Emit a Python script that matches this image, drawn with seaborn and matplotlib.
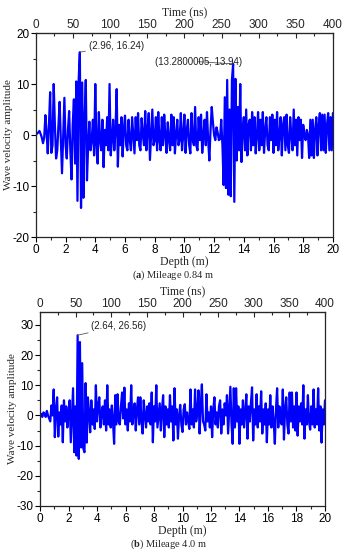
import numpy as np
import pandas as pd
import matplotlib
matplotlib.use("Agg")
import matplotlib.pyplot as plt
import seaborn as sns

step_m = 0.08
amp_a = [
    0, 0.3, 0.5, 0.8, 0.2, -0.5, -1.6, -0.5,
    3.9, 0.5, -3.6, 2, 8.4, -3.5, -2, 10.0,
    2, -4.6, -3, 2, 6.5, -1, -7.5, 0,
    7.3, -2, -4.6, 1, 4.7, -3, -8.7, 2,
    7.0, -5.6, 10.5, -12.9, 10.8, 16.24, -14.3, 10.3,
    -12.3, 3, 10.8, -8.9, -2, 2.6, -3, -1,
    3, -4, 10, -2, -5.6, 4.5, -1, -3,
    3, -6.3, 1, -2, 3.5, -3, 10, -4,
    -1, 3, -3, 1, 9, -6.2, 2, -2,
    3.5, -4.2, 1, 3.8, -2, -3, 3, -1,
    -3, 3.5, 0, -3.6, 3.5, -1, 4.3, -2,
    -3, 3.3, 0, -2, 4.7, -3, 1, 4.3,
    -4.9, 0, 5, -2, -1, 3.5, -3, 4.5,
    -1, -3, 3.5, -2, 4, 0, -3.5, 2.5,
    -1, -3, 4, -2, 3.5, -3.6, 0, 3,
    -2, -1, 4.3, -3, 0, 4, -3.5, 1,
    3, -2, -3.6, 4.3, -1, -2, 5.5, -2,
    -3, 3.5, -1, 4, -3.5, 0, 3, -2,
    4.5, -1, -5, 1, 5.5, 2.5, 0, -1,
    1.5, 0.5, -1, -0.8,
    3, -2, -9.8, 7.4, -10.4, 10.8, -11.7, 5, -12, 10.8, 13.94, -13.1, 11, -5, 5.5, -3,
    10, -5.3, 1, 3.5, -3, 5, -4, 2,
    3, -3, 4.5, -2, 3.5, -3.6, 0, 4.5,
    -3, 3, -2, 4.5, -3.5, 1, 3.5, -2,
    -3, 3.5, -1, 4, -3.5, 3, -2, 4.5,
    -3, 0, 3.5, -4, 2, 3.5, -3, 4,
    -2, -3.5, 3.5, 0, -3, 5, -2, 3,
    -4, 3.5, -1, 3, -4.5, 2, 0, -1,
    1, 0, -4.5, 3, -4, 3, -4.5, 1,
    3.5, -4, 2, 4.3, -3, 4, -3, 4,
    -3.5, 2, 4.3, -3, 3.5, -3, 4.3,
]
amp_b = [
    0, 0.5, -0.5, 1, 0.5, -0.5, 1.5, 0, -1, -2,
    3.3, 0, 8.6, -7.2, 2, 6, -7, 1, -3, 3.3,
    -8.9, 5, -2, 3, -4, 1, 5, -8.9, 0, 9,
    -12.2, 3, -13.3, 26.56, -14.4, 24.3, -10.6, 17.3, -11, -12.2,
    10.7, -9, 6, 1, -5.6, 5, -3, 2, -4.5, 10,
    -2, 3, 6, -4, 1, 3, -3, 5, -5, 10,
    -3, 2, -4, 3.3, -2, -9.4, 6.7, -3, 7, -2,
    -3, 3, 7.6, -1, 9.2, -3, 2, -5, 4, -2,
    10, -3, 1, 4, -5, 2, 6, -3, 6, -2,
    -6, 5, 0, -4, 3, -2, 4, -3, 7.6, -8.9,
    3, -2, 10, -4, 0, 4, -5, 2, 6.7, -7.2,
    3, -3, 2, -4, 6.7, -2, 3, -8.3, 9, -3,
    2, -7.7, 0, 3.5, -3, -5.5, 2, 3.7, -3, 1,
    -2, -4.5, 8.6, -3, 2, -4, 8.6, -2, 1, 8.3,
    -6, 3, 10.3, -2, -3, -5, 7, -2, 1, -4,
    3, -7.2, 2, 6, -3, 1, -4, 3, 5, -6,
    2, -3, 4, 0, 6.7, -6, 2, 9.5, -3, -9.4,
    9, -4, 9, -2, 3, -9.4, 2, -3, 5, -4,
    1, 7, -7.7, 3, -2, 4, 9.3, -8.3, 2, -3,
    7, -4, 3, -2, 8, -6, 2, -3, 4, -8.9,
    2, -3, 6.7, -4, 3, -2, -9.4, 2, 9, -4,
    3, -2, -3, 8.6, -8, 2, 6, -3, -6, 7.6,
    -2, 7.6, -4, 3, -5, 7.6, -6.7, 3, -2, 4,
    -3, 10, -7.7, 2, -3, 6.7, -2, -4.7, 3, -3,
    8.6, -4, 2, -3, 9, -5, 3, -9, 2, -3,
    5,
]
peak_a1 = (2.96, 16.24)
peak_a2 = (13.28, 13.94)
peak_b1 = (2.64, 26.56)
captions = ["a", "b"]
mileages = ["Mileage 0.84 m", "Mileage 4.0 m"]
depth_ticks = list(range(0, 21, 2))
time_ticks = list(range(0, 401, 50))

df_a = pd.DataFrame({"depth": np.arange(len(amp_a)) * step_m, "amp": amp_a})
df_b = pd.DataFrame({"depth": np.arange(len(amp_b)) * step_m, "amp": amp_b})

# ---------------- style ----------------
sns.set_style("ticks")
plt.rcParams["font.family"] = ["Liberation Sans", "DejaVu Sans"]
plt.rcParams["axes.unicode_minus"] = False
plt.rcParams["mathtext.fontset"] = "custom"
plt.rcParams["mathtext.rm"] = "Liberation Serif"
plt.rcParams["mathtext.bf"] = "Liberation Serif:bold"
serif = ["Liberation Serif", "DejaVu Serif"]
BLUE = "#0000ff"

fig = plt.figure(figsize=(3.45, 5.5), dpi=100)
ax_a = fig.add_axes([0.104, 0.569, 0.861, 0.371])
ax_b = fig.add_axes([0.116, 0.080, 0.826, 0.353])


def style_axes(ax, ylim, yticks, ylabel_x):
    ax.set_xlim(0, 20)
    ax.set_ylim(*ylim)
    ax.set_xticks(depth_ticks)
    ax.set_xticks(np.arange(1, 20, 2), minor=True)
    ax.set_yticks(yticks)
    ax.set_yticks(np.arange(yticks[0] + 5, yticks[-1], 10), minor=True)
    ax.tick_params(axis="both", which="major", length=3.5, width=0.8,
                   labelsize=8.5, pad=1.2, direction="out", colors="black")
    ax.tick_params(axis="both", which="minor", length=2, width=0.8, direction="out")
    for s in ax.spines.values():
        s.set_linewidth(0.9)
        s.set_visible(True)
    ax.set_xlabel("Depth (m)", family=serif, fontsize=8.5, labelpad=0.5)
    ax.set_ylabel("Wave velocity amplitude", family=serif, fontsize=8.0)
    ax.yaxis.set_label_coords(ylabel_x, 0.5)
    sec = ax.secondary_xaxis("top", functions=(lambda d: d * 20, lambda t: t / 20))
    sec.set_xticks(time_ticks)
    sec.set_xticks(np.arange(25, 400, 50), minor=True)
    sec.tick_params(axis="x", which="major", length=3.5, width=0.8,
                    labelsize=8.5, pad=1.5, direction="in")
    sec.tick_params(axis="x", which="minor", length=2, width=0.8, direction="in")
    sec.set_xlabel("Time (ns)", family=serif, fontsize=8.5, labelpad=2)
    return sec


sns.lineplot(data=df_a, x="depth", y="amp", ax=ax_a, color=BLUE, linewidth=1.6)
sns.lineplot(data=df_b, x="depth", y="amp", ax=ax_b, color=BLUE, linewidth=1.6)

style_axes(ax_a, (-20, 20), [-20, -10, 0, 10, 20], -0.077)
style_axes(ax_b, (-30, 34.3), [-30, -20, -10, 0, 10, 20, 30], -0.081)

ann_kw = dict(fontsize=7, color="#222222",
              arrowprops=dict(arrowstyle="-", color="#555555", lw=0.6,
                              shrinkA=0, shrinkB=0))
ax_a.annotate(f"({peak_a1[0]}, {peak_a1[1]})", xy=peak_a1, xytext=(3.55, 16.5),
              va="bottom", ha="left", **ann_kw)
ax_a.annotate(f"(13.2800005, {peak_a2[1]})", xy=peak_a2, xytext=(8.0, 13.4),
              va="bottom", ha="left", **ann_kw)
ax_b.annotate(f"({peak_b1[0]}, {peak_b1[1]})", xy=peak_b1, xytext=(3.6, 28.0),
              va="bottom", ha="left", **ann_kw)

fig.text(0.50, 0.500, rf"($\mathbf{{{captions[0]}}}$) {mileages[0]}",
         ha="center", va="center", family=serif, fontsize=7.5)
fig.text(0.49, 0.011, rf"($\mathbf{{{captions[1]}}}$) {mileages[1]}",
         ha="center", va="center", family=serif, fontsize=7.5)

fig.savefig("out.png", dpi=100)
